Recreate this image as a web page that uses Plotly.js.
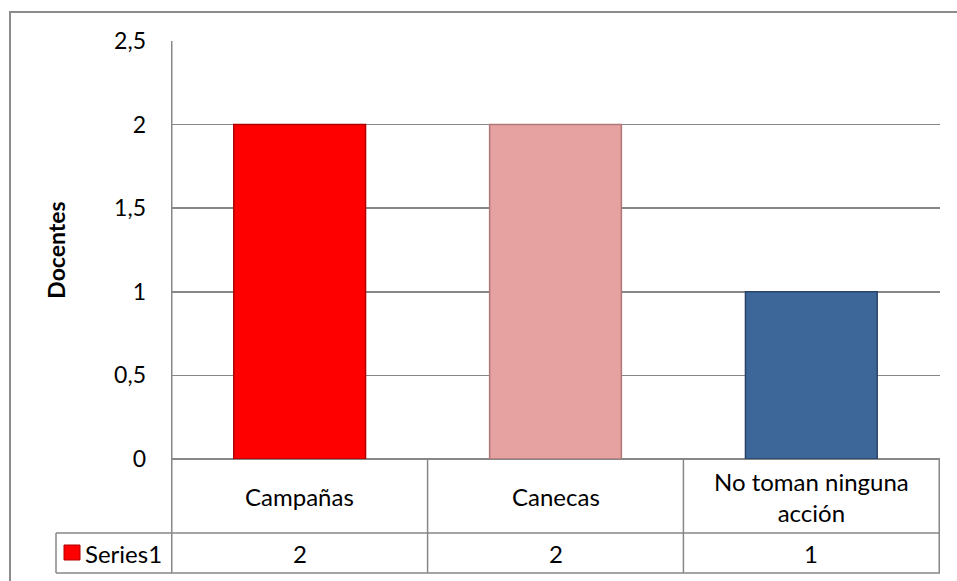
<!DOCTYPE html>
<html>
<head>
<meta charset="utf-8">
<script src="https://cdn.plot.ly/plotly-3.0.1.min.js"></script>
<style>html,body{margin:0;padding:0;background:#fff;}#chart{width:957px;height:581px;}</style>
</head>
<body>
<div id="chart"></div>
<script>
const categories = ["Campañas", "Canecas", "No toman ninguna acción"];
const categoryLabels = ["Campañas", "Canecas", "No toman ninguna<br>acción"];
const values = [2, 2, 1];
const seriesName = "Series1";
const barColors = ["#FF0000", "#E6A1A1", "#3D6699"];
const barLines = ["#B00000", "#B07878", "#27456B"];
const yTitle = "Docentes";

const FONT = "Lato, 'Open Sans', sans-serif";
const FS = 23;
const FT = 24;
const GRID = "#878787";

// plot area geometry (px) to convert table rows to paper coords
const L = 171, R = 940, T = 41, B = 459;
const W = R - L, H = B - T;
const py = y => (B - y) / H;
const px = x => (x - L) / W;

const shapes = [];
const annotations = [];
// table horizontal lines
shapes.push({type:'line', xref:'paper', yref:'paper', x0:0, x1:1, y0:py(533), y1:py(533), line:{color:GRID, width:1.5}});
shapes.push({type:'line', xref:'paper', yref:'paper', x0:px(56), x1:0, y0:py(533), y1:py(533), line:{color:GRID, width:1.5}});
shapes.push({type:'line', xref:'paper', yref:'paper', x0:px(56), x1:1, y0:py(573), y1:py(573), line:{color:GRID, width:1.5}});
shapes.push({type:'line', xref:'paper', yref:'paper', x0:px(56), x1:px(56), y0:py(533), y1:py(573), line:{color:GRID, width:1.5}});
// vertical cell boundaries
for (let i = 0; i <= categories.length; i++) {
  shapes.push({type:'line', xref:'x', yref:'paper', x0:i-0.5, x1:i-0.5,
    y0: i === 0 ? 1 : 0, y1:py(573), line:{color:GRID, width:1.5}});
}
// legend key
shapes.push({type:'rect', xref:'paper', yref:'paper', x0:px(64), x1:px(80), y0:py(545), y1:py(560),
  fillcolor:barColors[0], line:{color:barLines[0], width:1}});
// outer border
shapes.push({type:'rect', xref:'paper', yref:'paper', x0:px(10), x1:px(990), y0:py(12), y1:py(620),
  fillcolor:'rgba(0,0,0,0)', line:{color:'#8C8C8C', width:2}});

categories.forEach((c, i) => {
  annotations.push({xref:'x', yref:'paper', x:i, y:py(497), text:categoryLabels[i], showarrow:false,
    font:{family:FONT, size:FT, color:'#000'}, xanchor:'center', yanchor:'middle', align:'center'});
  annotations.push({xref:'x', yref:'paper', x:i, y:py(553), text:String(values[i]), showarrow:false,
    font:{family:FONT, size:FT, color:'#000'}, xanchor:'center', yanchor:'middle'});
});
annotations.push({xref:'paper', yref:'paper', x:px(83), y:py(553), text:seriesName, showarrow:false,
  font:{family:FONT, size:FT, color:'#000'}, xanchor:'left', yanchor:'middle'});

const trace = {
  type:'bar', x:categories, y:values, name:seriesName,
  marker:{color:barColors, line:{color:barLines, width:1.5}},
  hoverinfo:'x+y'
};

const layout = {
  width:957, height:581,
  margin:{l:L, r:957-R, t:T, b:581-B, pad:0},
  paper_bgcolor:'#fff', plot_bgcolor:'#fff',
  separators:',.',
  showlegend:false,
  bargap:0.485,
  font:{family:FONT, size:FS, color:'#000'},
  xaxis:{type:'category', showticklabels:false, showgrid:false, zeroline:false, showline:false, ticks:'', fixedrange:true},
  yaxis:{range:[0,2.5], dtick:0.5, tick0:0, showgrid:true, gridcolor:GRID, gridwidth:1.5,
    zeroline:true, zerolinecolor:GRID, zerolinewidth:1.5, showline:false, ticks:'',
    ticklabelstandoff:24, tickfont:{family:FONT, size:FS, color:'#000'},
    title:{text:'<b>'+yTitle+'</b>', font:{family:FONT, size:23, color:'#000'}, standoff:42}, fixedrange:true},
  shapes:shapes,
  annotations:annotations
};

Plotly.newPlot('chart', [trace], layout, {displayModeBar:false, staticPlot:true});
</script>
</body>
</html>
